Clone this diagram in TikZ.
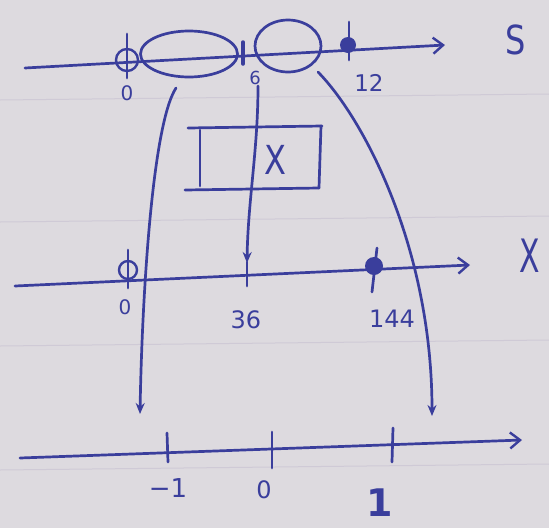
\documentclass[tikz,border=0pt]{standalone}
\usepackage{fontspec}
\setmainfont{DejaVu Sans}
\usetikzlibrary{arrows.meta,shapes.geometric}
\definecolor{ink}{HTML}{3A3E9C}
\definecolor{paper}{HTML}{DDDADF}
\definecolor{rule}{HTML}{CFCAD6}
\begin{document}
\begin{tikzpicture}[x=1pt,y=-1pt,
  pen/.style={draw=ink, line width=2.7pt, line cap=round, line join=round},
  lbl/.style={text=ink, inner sep=0pt},
  axisarrow/.style={-{Straight Barb[length=10pt,width=16pt,line width=2.4pt]}},
  maparrow/.style={-{Stealth[length=11pt,width=9pt]}},
  hollow/.style={circle, draw=ink, line width=2.4pt, inner sep=0pt},
  solid dot/.style={circle, fill=ink, inner sep=0pt}]
\fill[paper] (0,0) rectangle (549,528);
\useasboundingbox (0,0) rectangle (549,528);
% faint ruling of the paper
\foreach \yy in {100,222,346,470} \draw[rule, line width=1pt] (0,\yy) -- (549,\yy-6);

% ---- S axis ----
\coordinate (sL) at (25,68);
\coordinate (sR) at (445,45);
\draw[pen, axisarrow] (sL) -- (sR);
\node[lbl, font=\fontsize{40}{42}\selectfont, xscale=0.8] (S) at (516,40) {S};
\node[hollow, minimum size=22pt] (s0) at (127,60) {};
\draw[pen] (127,34) -- (127,78);
\node[lbl, font=\fontsize{20}{22}\selectfont] (l0) at (127,93) {0};
\node[ellipse, pen, minimum width=97pt, minimum height=46pt] (e1) at (189,54) {};
\node[ellipse, pen, minimum width=66pt, minimum height=52pt] (e2) at (288,46) {};
\draw[pen, line width=3.5pt] (243,42) -- (243,64);
\node[lbl, font=\fontsize{18}{20}\selectfont] (l6) at (255,78) {6};
\node[solid dot, minimum size=16pt] (d12) at (348,45) {};
\draw[pen] (349,22) -- (349,60);
\node[lbl, font=\fontsize{23}{25}\selectfont] (l12) at (369,83) {12};

% ---- box (hand-drawn, sides overshooting) ----
\draw[pen] (188,128) -- (322,126);
\draw[pen] (321,126) -- (319,188);
\draw[pen] (185,190) -- (319,188);
\draw[pen] (200,130) -- (200,186);
\node[lbl, font=\fontsize{40}{42}\selectfont, xscale=0.8] (xb) at (275,160) {X};

% ---- X axis ----
\coordinate (xL) at (15,286);
\coordinate (xR) at (470,265);
\draw[pen, axisarrow] (xL) -- (xR);
\node[lbl, font=\fontsize{46}{48}\selectfont, xscale=0.65] (Xl) at (530,256) {X};
\node[hollow, minimum size=18pt] (x0) at (128,270) {};
\draw[pen] (128,250) -- (128,288);
\node[lbl, font=\fontsize{20}{22}\selectfont] (lx0) at (125,307) {0};
\coordinate (t36) at (247,263);
\draw[pen] (247,262) -- (247,286);
\node[lbl, font=\fontsize{24}{26}\selectfont] (l36) at (246,320) {36};
\node[solid dot, minimum size=18pt] (d144) at (374,266) {};
\draw[pen] (377,248) -- (372,292);
\node[lbl, font=\fontsize{24}{26}\selectfont] (l144) at (392,319) {144};

% ---- bottom axis ----
\coordinate (bL) at (20,458);
\coordinate (bR) at (522,440);
\draw[pen, axisarrow] (bL) -- (bR);
\draw[pen] (167,433) -- (168,462);
\draw[pen] (272,432) -- (272,468);
\draw[pen] (393,428) -- (392,462);
\node[lbl, font=\fontsize{26}{28}\selectfont] (lm1) at (168,488) {−1};
\node[lbl, font=\fontsize{24}{26}\selectfont] (lb0) at (264,490) {0};
\node[lbl, font=\bfseries\fontsize{38}{40}\selectfont] (lb1) at (380,503) {1};

% ---- mapping arrows ----
\coordinate (c1s) at (176,88);
\coordinate (c1e) at (140,414);
\draw[pen, maparrow] (c1s) .. controls (152,125) and (142,300) .. (c1e);
\coordinate (c2s) at (258,86);
\draw[pen, maparrow] (c2s) .. controls (258,150) and (248,200) .. (t36);
\coordinate (c3s) at (318,72);
\coordinate (c3e) at (432,416);
\draw[pen, maparrow] (c3s) .. controls (365,120) and (432,250) .. (c3e);
\end{tikzpicture}
\end{document}
